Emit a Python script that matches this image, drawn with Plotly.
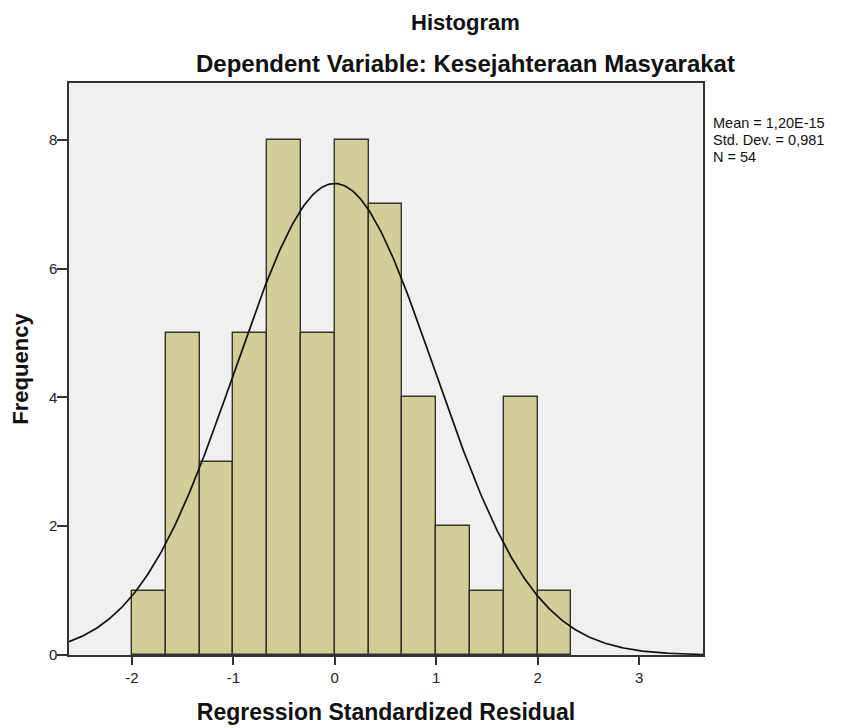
import numpy as np
import plotly.graph_objects as go

# Histogram data
bin_left_edges = [-2.0, -5/3, -4/3, -1.0, -2/3, -1/3, 0.0, 1/3, 2/3, 1.0, 4/3, 5/3, 2.0]
bin_width = 1/3
counts = [1, 5, 3, 5, 8, 5, 8, 7, 4, 2, 1, 4, 1]

# Fitted normal curve parameters (from the stats box)
mean_val = 1.20e-15
std_dev = 0.981
n_obs = 54
stats_lines = ["Mean = 1,20E-15", "Std. Dev. = 0,981", "N = 54"]

x_ticks = [-2, -1, 0, 1, 2, 3]
y_ticks = [0, 2, 4, 6, 8]

centers = [e + bin_width / 2 for e in bin_left_edges]

xs = np.linspace(-2.62, 3.63, 400)
ys = n_obs * bin_width / (std_dev * np.sqrt(2 * np.pi)) * np.exp(-0.5 * ((xs - mean_val) / std_dev) ** 2)

fig = go.Figure()
fig.add_trace(go.Bar(
    x=centers, y=counts, width=bin_width,
    marker=dict(color="#d3ce97", line=dict(color="#33332a", width=1.4)),
    showlegend=False, hoverinfo="skip",
))
fig.add_trace(go.Scatter(
    x=xs, y=ys, mode="lines",
    line=dict(color="#111111", width=1.7),
    showlegend=False, hoverinfo="skip",
))

font_family = "Liberation Sans, Arial, sans-serif"

# page body has an 8px margin; compensate
off = 8
annos = [
    dict(text="<b>Histogram</b>", xref="paper", yref="paper",
         x=0.626, y=1.0, yshift=61, showarrow=False,
         font=dict(size=22, color="#111111"), xanchor="center", yanchor="middle"),
    dict(text="<b>Dependent Variable: Kesejahteraan Masyarakat</b>", xref="paper", yref="paper",
         x=0.626, y=1.0, yshift=20, showarrow=False,
         font=dict(size=24, color="#111111"), xanchor="center", yanchor="middle"),
]
for i, line in enumerate(stats_lines):
    annos.append(dict(text=line, xref="paper", yref="paper",
                      x=1.0, y=1.0, xshift=8, yshift=-40 - 16.8 * i, showarrow=False,
                      align="left", font=dict(size=14.5, color="#111111"),
                      xanchor="left", yanchor="middle"))

fig.update_layout(
    width=842, height=728,
    margin=dict(l=69 - off, r=139 + off, t=83 - off, b=73 + off),
    paper_bgcolor="white",
    plot_bgcolor="#f0f0f0",
    font=dict(family=font_family, color="#111111", size=15),
    bargap=0,
    xaxis=dict(
        range=[-2.62, 3.63], tickvals=x_ticks,
        ticktext=[str(t) for t in x_ticks],
        showgrid=False, zeroline=False,
        showline=True, linecolor="#333333", linewidth=1.5, mirror=True,
        ticks="outside", ticklen=8, tickwidth=1.5, tickcolor="#333333",
        tickfont=dict(size=15, color="#222222"),
        title=dict(text="<b>Regression Standardized Residual</b>",
                   font=dict(size=23, color="#111111"), standoff=19),
        automargin=False,
    ),
    yaxis=dict(
        range=[0, 8.88], tickvals=y_ticks,
        showgrid=False, zeroline=False,
        showline=True, linecolor="#333333", linewidth=1.5, mirror=True,
        ticks="outside", ticklen=10, tickwidth=1.5, tickcolor="#333333",
        tickfont=dict(size=15, color="#222222"),
        ticklabelstandoff=-3,
        title=dict(text="<b>Frequency</b>",
                   font=dict(size=22, color="#111111"), standoff=14),
        automargin=False,
    ),
    annotations=annos,
)

fig.write_html("out.html")
